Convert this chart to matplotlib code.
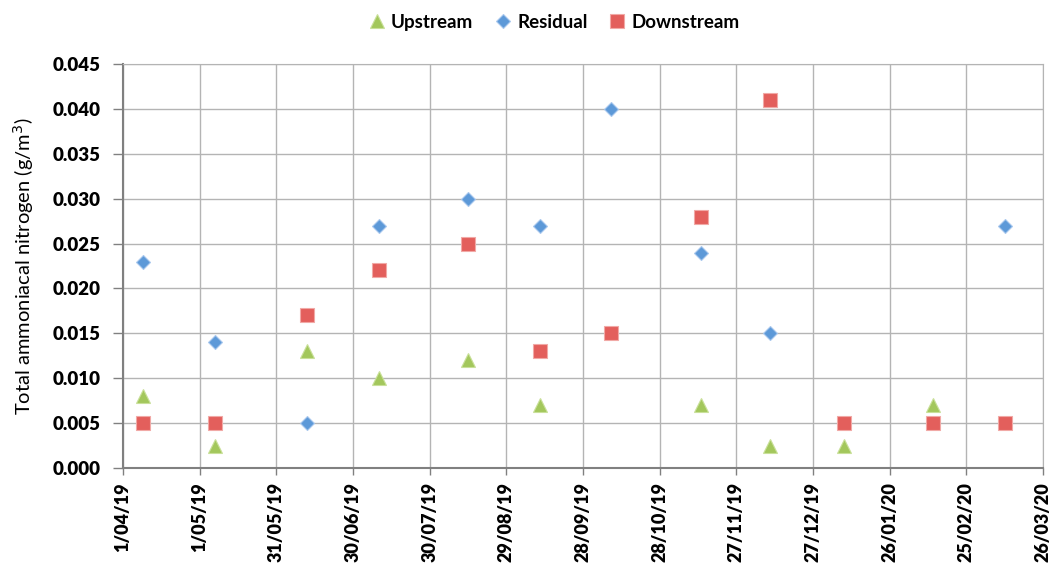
import datetime as dt
import matplotlib
matplotlib.use('Agg')
import matplotlib.pyplot as plt
import matplotlib.dates as mdates
from matplotlib.ticker import FuncFormatter, MultipleLocator, FixedLocator

# Sampling dates and concentrations (g/m3); None = not sampled
datas = ['2019-04-09', '2019-05-07', '2019-06-12', '2019-07-10', '2019-08-14',
         '2019-09-11', '2019-10-09', '2019-11-13', '2019-12-10', '2020-01-08',
         '2020-02-12', '2020-03-11']
upstream = [0.008, 0.0025, 0.013, 0.010, 0.012, 0.007, None, 0.007, 0.0025,
            0.0025, 0.007, None]
residual = [0.023, 0.014, 0.005, 0.027, 0.030, 0.027, 0.040, 0.024, 0.015,
            None, None, 0.027]
downstream = [0.005, 0.005, 0.017, 0.022, 0.025, 0.013, 0.015, 0.028, 0.041,
              0.005, 0.005, 0.005]

inicio = dt.date(2019, 4, 1)
fim = dt.date(2020, 3, 26)
ticks_x = [inicio + dt.timedelta(days=30 * k) for k in range(13)]

fonte = 'Lato'

def serie(valores):
    xs, ys = [], []
    for d, v in zip(datas, valores):
        if v is not None:
            xs.append(dt.date.fromisoformat(d))
            ys.append(v)
    return xs, ys

def rotulo_data(v, pos):
    d = mdates.num2date(v)
    return f'{d.day}/{d.month:02d}/{d.year % 100:02d}'

fig = plt.figure(figsize=(10.58, 5.65), dpi=100)
ax = fig.add_axes([0.1163, 0.1717, 0.8695, 0.715])

x, y = serie(upstream)
ax.plot(x, y, ls='none', marker='^', ms=9.5, mfc='#a3c75c', mec='#c9e09a',
        mew=0.8, label='Upstream', zorder=3)
x, y = serie(residual)
ax.plot(x, y, ls='none', marker='D', ms=7.5, mfc='#5d99d8', mec='#a9c8ee',
        mew=0.8, label='Residual', zorder=3)
x, y = serie(downstream)
ax.plot(x, y, ls='none', marker='s', ms=9.5, mfc='#e35f5c', mec='#f1a9a6',
        mew=0.8, label='Downstream', zorder=3)

ax.set_xlim(mdates.date2num(inicio), mdates.date2num(fim))
ax.set_ylim(0, 0.045)
ax.xaxis.set_major_locator(FixedLocator(mdates.date2num(ticks_x)))
ax.xaxis.set_major_formatter(FuncFormatter(rotulo_data))
ax.yaxis.set_major_locator(MultipleLocator(0.005))
ax.yaxis.set_major_formatter(FuncFormatter(lambda v, p: f'{v:.3f}'))

ax.grid(True, color='#b4b4b4', lw=1.0)
ax.set_axisbelow(True)
for lado in ['top', 'right']:
    ax.spines[lado].set_color('#b4b4b4')
for lado in ['left', 'bottom']:
    ax.spines[lado].set_color('#808080')
    ax.spines[lado].set_linewidth(1.5)

ax.tick_params(axis='y', direction='out', length=7, color='#808080', width=1, pad=9)
ax.tick_params(axis='x', direction='out', length=5, color='#808080', width=1, pad=5)
for t in ax.get_xticklabels():
    t.set_rotation(90)
    t.set_fontfamily(fonte)
    t.set_fontweight('heavy')
    t.set_fontsize(13)
for t in ax.get_yticklabels():
    t.set_fontfamily(fonte)
    t.set_fontweight('heavy')
    t.set_fontsize(13.5)

ax.set_ylabel('Total ammoniacal nitrogen (g/m$^3$)', fontfamily=fonte,
              fontsize=14.5, labelpad=12)

fig.legend(loc='upper center', bbox_to_anchor=(0.524, 1.005), ncol=3,
           frameon=False, handlelength=0.8, handletextpad=0.35,
           columnspacing=1.2,
           prop={'family': fonte, 'weight': 'bold', 'size': 13.5})

fig.savefig('out.png', dpi=100)
